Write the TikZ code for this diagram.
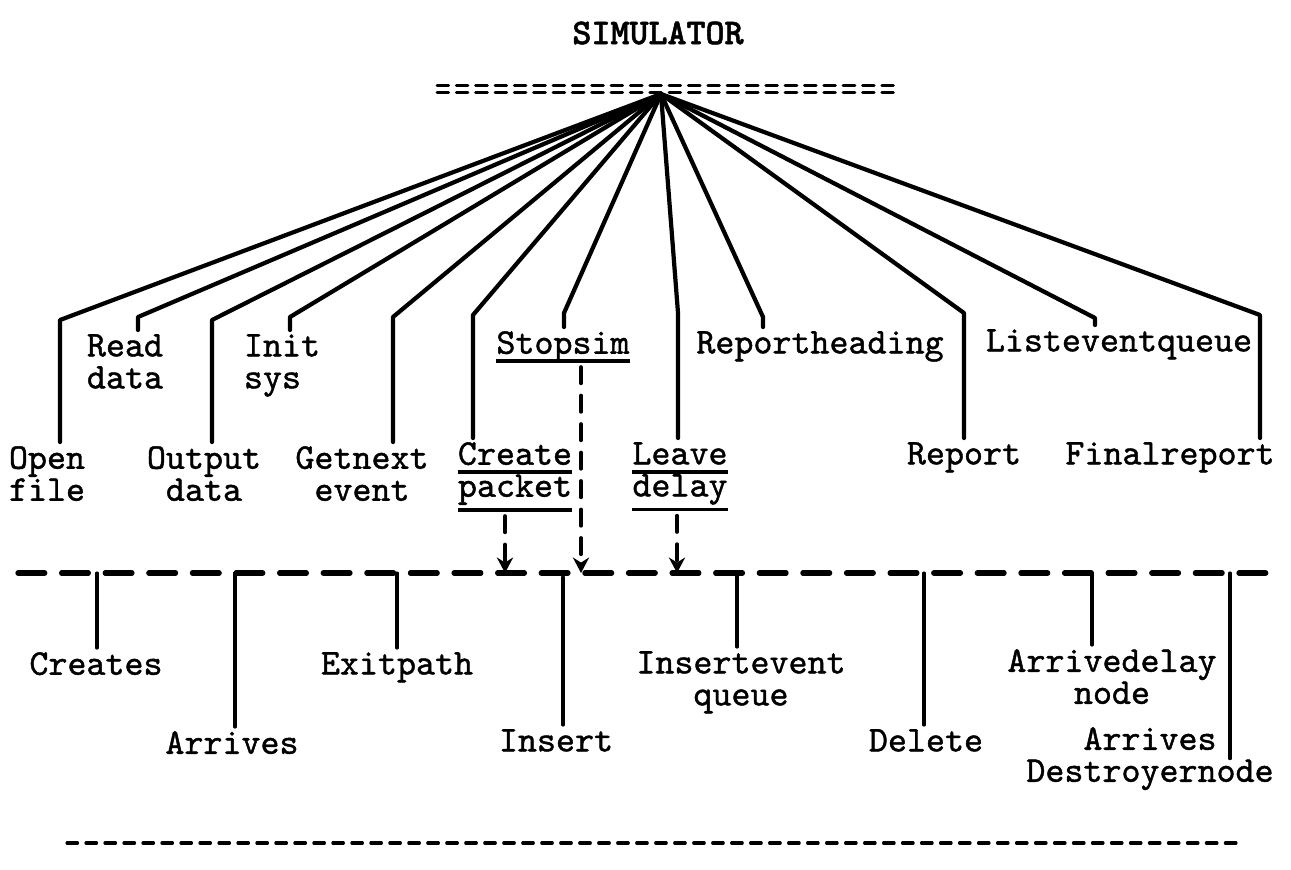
\documentclass[tikz,border=0pt]{standalone}
\usepackage{fontspec}
\usetikzlibrary{arrows.meta,calc}
\newfontfamily\typer{lmmono10-regular.otf}[FakeBold=1.2]
\newfontfamily\typerbold{lmmonolt10-bold.otf}[FakeBold=1.4]
% typed underline: #1 = gap below the baseline
\newcommand\ulbox[2][1.5pt]{\setbox0\hbox{#2}\rlap{\vrule height -#1 depth \dimexpr#1+1.1pt\relax width \wd0}\box0}
\begin{document}
\begin{tikzpicture}[x=0.01cm, y=-0.01cm, line join=round, line cap=round,
		font=\typer\fontsize{10.3}{9.1}\selectfont,
		lbl/.style={inner sep=1pt, anchor=north, align=center},
		branch/.style={line width=1.2pt},
		leaf/.style={line width=0.9pt},
		darrow/.style={line width=1.1pt, dash pattern=on 4.6pt off 3.5pt, -{Stealth[length=4.4pt,width=4.6pt]}}]
		\useasboundingbox (0,0) rectangle (1291,869);
		% Title and the typed double line
		\node[font=\typerbold\fontsize{10.3}{12}\selectfont] (title) at (658,33) {SIMULATOR};
		\draw[line width=0.85pt, dash pattern=on 3.3pt off 2.2pt] (437,85) -- (894,85);
		\draw[line width=0.85pt, dash pattern=on 3.3pt off 2.2pt] (437,92) -- (894,92);
		\coordinate (hub) at (661,94);
		% Upper procedures
		\node[lbl] (open) at (47,442) {Open\\file};
		\node[lbl] (read) at (125,330) {Read\\data};
		\node[lbl] (output) at (204,442) {Output\\data};
		\node[lbl, align=left] (init) at (282,330) {Init\\sys};
		\node[lbl] (getnext) at (362,442) {Getnext\\event};
		\node[lbl] (create) at (515,438) {\ulbox{Create}\\\ulbox[3.2pt]{packet}};
		\node[lbl] (stopsim) at (563,327) {\ulbox{Stopsim}};
		\node[lbl] (leave) at (680,438) {\ulbox{Leave}\\\ulbox[3.2pt]{delay}};
		\node[lbl] (rephead) at (820,327) {Reportheading};
		\node[lbl] (report) at (964,438) {Report};
		\node[lbl] (listev) at (1119,325) {Listeventqueue};
		\node[lbl] (final) at (1170,438) {Finalreport};
		% Corners of the fan
		\coordinate (c1) at (60,320);
		\coordinate (c2) at (138,317);
		\coordinate (c3) at (212,320);
		\coordinate (c4) at (290,317);
		\coordinate (c5) at (393,317);
		\coordinate (c6) at (473,315);
		\coordinate (c7) at (564,313);
		\coordinate (c8) at (678,313);
		\coordinate (c9) at (763,317);
		\coordinate (c10) at (964,313);
		\coordinate (c11) at (1095,318);
		\coordinate (c12) at (1260,315);
		\foreach \c/\n in {c1/open, c2/read, c3/output, c4/init, c5/getnext, c6/create, c7/stopsim, c8/leave, c9/rephead, c10/report, c11/listev, c12/final}
			\draw[branch] (hub) -- (\c) -- (\c |- \n.north);
		% Event line
		\coordinate (midL) at (18,573);
		\coordinate (midR) at (1272,573);
		\draw[line width=1.5pt, dash pattern=on 7.6pt off 4.8pt] (midL) -- (midR);
		% Dashed calls onto the event line
		\coordinate (pk) at ($(create.south)+(-10,0)$);
		\coordinate (ss) at ($(stopsim.south)+(18,0)$);
		\coordinate (ld) at ($(leave.south)+(-3,0)$);
		\foreach \a in {pk, ss, ld}
			\draw[darrow] (\a) -- (\a |- midL);
		% Lower procedures
		\node[lbl] (creates) at (96,648) {Creates};
		\node[lbl] (arrives) at (232,727) {Arrives};
		\node[lbl] (exitpath) at (397,648) {Exitpath};
		\node[lbl] (insert) at (556,725) {Insert};
		\node[lbl] (insev) at (741,647) {Insertevent\\queue};
		\node[lbl] (delete) at (926,725) {Delete};
		\node[lbl] (arrdel) at (1112,645) {Arrivedelay\\node};
		\node[lbl] (arrdes) at (1150,723) {Arrives\\Destroyernode};
		\coordinate (t1) at (97,573);
		\coordinate (t2) at (235,573);
		\coordinate (t3) at (397,573);
		\coordinate (t4) at (563,577);
		\coordinate (t5) at (737,573);
		\coordinate (t6) at (924,573);
		\coordinate (t7) at (1092,573);
		\coordinate (t8) at (1230,573);
		\foreach \t/\n in {t1/creates, t2/arrives, t3/exitpath, t4/insert, t5/insev, t6/delete, t7/arrdel}
			\draw[leaf] (\t) -- (\t |- \n.north);
		\draw[leaf] (t8) -- (t8 |- arrdes.center);
		% Closing typed line
		\draw[line width=0.9pt, dash pattern=on 3pt off 2.4pt] (67,843) -- (1236,843);
	\end{tikzpicture}
\end{document}
